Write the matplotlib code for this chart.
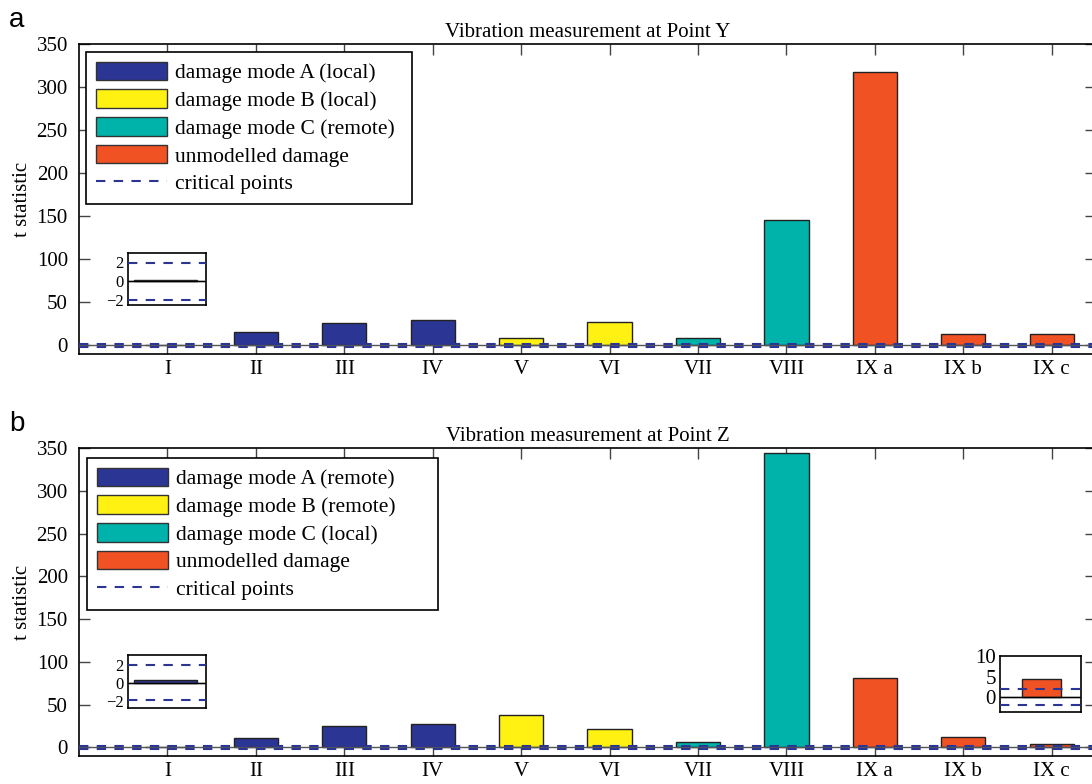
import matplotlib
matplotlib.use("Agg")
import matplotlib.pyplot as plt
from matplotlib.patches import Patch
from matplotlib.lines import Line2D

plt.rcParams['font.family'] = ['Liberation Serif', 'DejaVu Serif']
plt.rcParams['axes.linewidth'] = 1.2

# data
labels = ["I", "II", "III", "IV", "V", "VI", "VII", "VIII", "IX a", "IX b", "IX c"]
kinds = ["A", "A", "A", "A", "B", "B", "C", "C", "U", "U", "U"]
t_point_y = [0.1, 15, 26, 29, 8.5, 27, 9, 146, 317, 13.5, 13.5]
t_point_z = [0.3, 11.3, 25.6, 27.9, 37.6, 21.7, 6.6, 344, 81, 12.4, 4.35]
critical = 1.96

legend_y = ["damage mode A (local)", "damage mode B (local)",
            "damage mode C (remote)", "unmodelled damage", "critical points"]
legend_z = ["damage mode A (remote)", "damage mode B (remote)",
            "damage mode C (local)", "unmodelled damage", "critical points"]

colors = {"A": "#2b3593", "B": "#fff212", "C": "#00b3aa", "U": "#f15224"}
dash_col = "#2b3593"
dash_style = (0, (4.5, 4))
x = list(range(1, len(labels) + 1))
bar_cols = [colors[k] for k in kinds]

fig = plt.figure(figsize=(10.92, 7.84), dpi=100)


def draw_bars(ax, vals):
    ax.bar(x, vals, width=0.5, color=bar_cols, edgecolor="#222222", linewidth=1, zorder=2)
    ax.axhline(0, color="#555555", lw=1, zorder=3)
    for c in (critical, -critical):
        ax.axhline(c, color=dash_col, lw=1.5, ls=dash_style, zorder=4)


def panel(rect, vals, title, leg_labels, leg_box, letter, letter_y):
    ax = fig.add_axes(rect)
    draw_bars(ax, vals)
    ax.set_xlim(0, 11.5)
    ax.set_ylim(-10, 350)
    ax.set_xticks(x)
    ax.set_xticklabels(labels)
    ax.set_yticks(range(0, 351, 50))
    ax.tick_params(direction="in", top=True, right=True, length=8, width=1,
                   color="#444444", labelsize=15, pad=8)
    ax.tick_params(axis="x", pad=4)
    ax.set_ylabel("t statistic", fontsize=15, labelpad=3)
    ax.set_title(title, fontsize=15, pad=5)
    handles = [Patch(facecolor=colors[k], edgecolor="#333333", lw=1) for k in "ABCU"]
    handles.append(Line2D([], [], color=dash_col, lw=1.5, ls=dash_style))
    leg = ax.legend(handles, leg_labels, loc="upper left", bbox_to_anchor=leg_box,
                    mode="expand", borderaxespad=0, fontsize=15.5, handlelength=3.3,
                    handleheight=0.95, handletextpad=0.4, labelspacing=0.28,
                    borderpad=0.45, fancybox=False, framealpha=1)
    leg.get_frame().set_edgecolor("black")
    leg.get_frame().set_linewidth(1.2)
    fig.text(0.008, letter_y, letter, fontsize=20, family="Liberation Sans", va="center")
    return ax


def inset(rect, vals, xlim, ylim, ticks, size):
    ax = fig.add_axes(rect)
    draw_bars(ax, vals)
    ax.axhline(0, color="black", lw=1, zorder=3)
    ax.set_xlim(*xlim)
    ax.set_ylim(*ylim)
    ax.set_xticks([])
    ax.set_yticks(ticks)
    ax.set_yticklabels([str(t).replace("-", "\u2212") for t in ticks])
    ax.tick_params(direction="in", length=0, labelsize=size, pad=3)
    return ax


panel([0.0723, 0.5485, 0.9313, 0.3954], t_point_y, "Vibration measurement at Point Y",
      legend_y, (0.007, 0.974, 0.32, 0), "a", 0.974)
panel([0.0723, 0.0357, 0.9313, 0.3929], t_point_z, "Vibration measurement at Point Z",
      legend_z, (0.008, 0.968, 0.345, 0), "b", 0.459)

inset([0.1172, 0.611, 0.0714, 0.0663], t_point_y, (0.70, 1.32), (-2.5, 3), [-2, 0, 2], 12)
inset([0.1172, 0.0969, 0.0714, 0.0676], t_point_z, (0.70, 1.32), (-2.8, 3.1), [-2, 0, 2], 12)
inset([0.9158, 0.0918, 0.0742, 0.0714], t_point_z, (10.47, 11.51), (-3.6, 10), [0, 5, 10], 15)

fig.savefig("out.png", dpi=100)
